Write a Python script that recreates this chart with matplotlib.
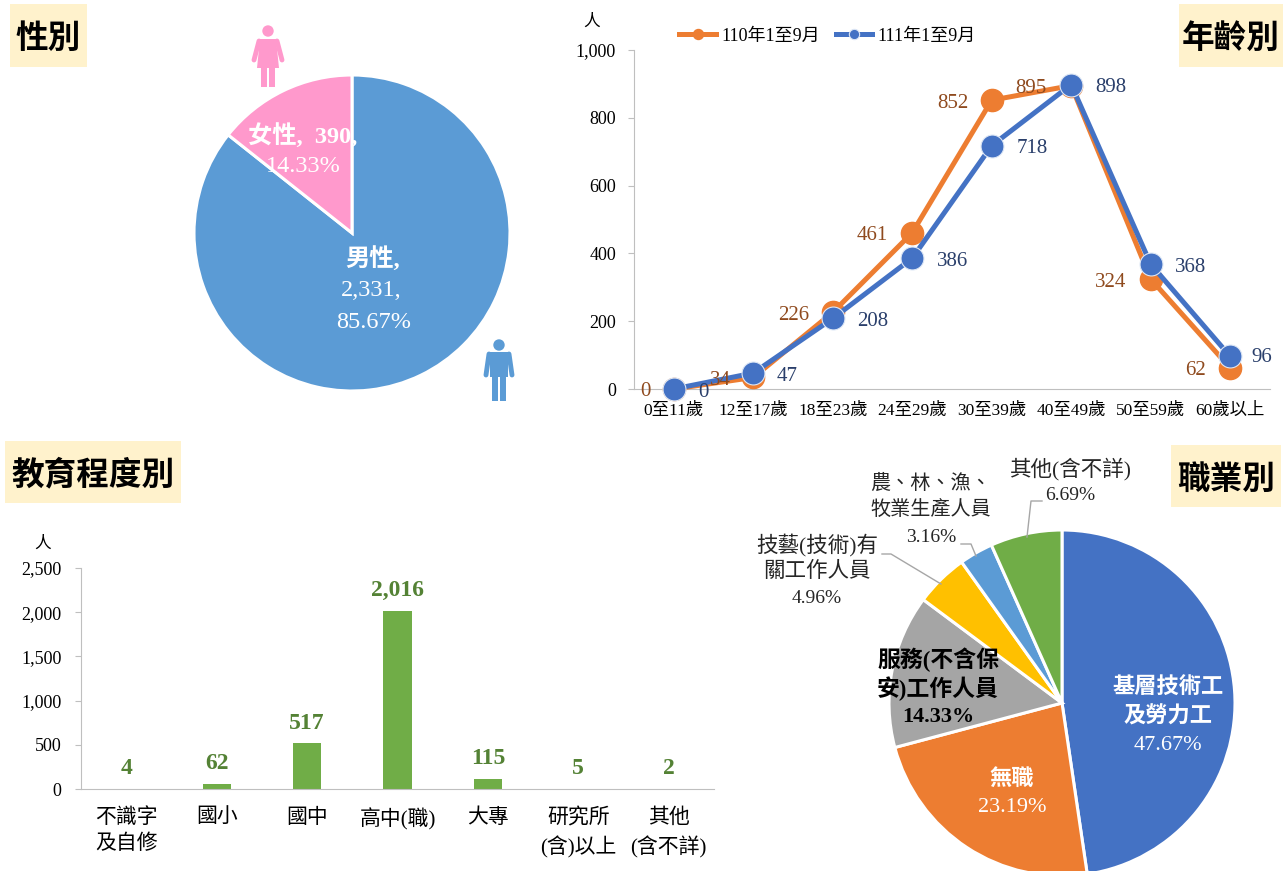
import matplotlib
matplotlib.use("Agg")
import matplotlib.pyplot as plt
from matplotlib.patches import Rectangle, Circle, Polygon
from matplotlib.ticker import FuncFormatter

W, H = 1283, 871
SERIF_CJK = ["Liberation Serif", "Noto Sans CJK TC"]
SANS_CJK = ["Noto Sans CJK TC", "DejaVu Sans"]
plt.rcParams["font.family"] = SERIF_CJK

# gender
gender_names = ["男性", "女性"]
gender_counts = [2331, 390]
gender_pct = [85.67, 14.33]

# age
age_groups = ["0至11歲", "12至17歲", "18至23歲", "24至29歲", "30至39歲", "40至49歲", "50至59歲", "60歲以上"]
age_110 = [0, 34, 226, 461, 852, 895, 324, 62]
age_111 = [0, 47, 208, 386, 718, 898, 368, 96]
age_series = ["110年1至9月", "111年1至9月"]
age_ticks = [0, 200, 400, 600, 800, 1000]

# education
edu_names = ["不識字\n及自修", "國小", "國中", "高中(職)", "大專", "研究所\n(含)以上", "其他\n(含不詳)"]
edu_counts = [4, 62, 517, 2016, 115, 5, 2]
edu_ticks = [0, 500, 1000, 1500, 2000, 2500]

# occupation
job_names = ["基層技術工\n及勞力工", "無職", "服務(不含保\n安)工作人員", "技藝(技術)有\n關工作人員",
             "農、林、漁、\n牧業生產人員", "其他(含不詳)"]
job_pct = [47.67, 23.19, 14.33, 4.96, 3.16, 6.69]
job_colors = ["#4472C4", "#ED7D31", "#A5A5A5", "#FFC000", "#5B9BD5", "#70AD47"]

ORANGE = "#ED7D31"
BLUE = "#4472C4"
GREEN = "#70AD47"
AXIS_GRAY = "#BFBFBF"


def px_axes(fig, left, top, right, bottom):
    return fig.add_axes([left / W, 1 - bottom / H, (right - left) / W, (bottom - top) / H])


def px_pie(fig, cx, cy, r, values, colors, lw):
    ax = px_axes(fig, cx - r, cy - r, cx + r, cy + r)
    ax.pie(values, colors=colors, startangle=90, counterclock=False,
           wedgeprops=dict(edgecolor="white", linewidth=lw))
    ax.set_xlim(-1, 1)
    ax.set_ylim(-1, 1)
    return ax


def style_axis(ax, ypad):
    for s in ["top", "right"]:
        ax.spines[s].set_visible(False)
    ax.spines["left"].set_color(AXIS_GRAY)
    ax.spines["bottom"].set_color(AXIS_GRAY)
    ax.tick_params(axis="y", color=AXIS_GRAY, length=4, labelsize=13, pad=ypad)
    ax.tick_params(axis="x", length=0)
    ax.yaxis.set_major_formatter(FuncFormatter(lambda v, _: f"{int(v):,}"))


def draw_person(ov, cx, top, color, female):
    ov.add_patch(Circle((cx, top + 6), 5.7, color=color, lw=0))
    if female:
        ov.add_patch(Polygon([(cx - 8, top + 14), (cx + 8, top + 14), (cx + 11, top + 43),
                              (cx - 11, top + 43)], color=color, lw=0))
        ov.add_patch(Rectangle((cx - 7, top + 42), 6, 20, color=color, lw=0))
        ov.add_patch(Rectangle((cx + 1, top + 42), 6, 20, color=color, lw=0))
        arm = [(cx - 9, top + 16), (cx - 14, top + 35)]
        arm2 = [(cx + 9, top + 16), (cx + 14, top + 35)]
    else:
        ov.add_patch(Rectangle((cx - 9, top + 13), 18, 25, color=color, lw=0))
        ov.add_patch(Rectangle((cx - 7, top + 37), 6, 25, color=color, lw=0))
        ov.add_patch(Rectangle((cx + 1, top + 37), 6, 25, color=color, lw=0))
        arm = [(cx - 10, top + 15), (cx - 13, top + 36)]
        arm2 = [(cx + 10, top + 15), (cx + 13, top + 36)]
    for a in (arm, arm2):
        ov.plot([a[0][0], a[1][0]], [a[0][1], a[1][1]], color=color, lw=3.5, solid_capstyle="round")


fig = plt.figure(figsize=(W / 100, H / 100), dpi=100, facecolor="white")

# gender pie
px_pie(fig, 352, 233, 158, gender_counts, ["#5B9BD5", "#FF99CC"], 2.2)

# occupation pie
px_pie(fig, 1062, 703, 173, job_pct, job_colors, 2.2)

# age lines
ax_age = px_axes(fig, 634, 50, 1270, 389)
xs = range(len(age_groups))
ax_age.plot(xs, age_110, color=ORANGE, lw=3.6, marker="o", ms=16, mec=ORANGE, label=age_series[0],
            clip_on=False, zorder=3)
ax_age.plot(xs, age_111, color=BLUE, lw=3.6, marker="o", ms=16.5, mec="#DCE6F5", mew=0.8,
            label=age_series[1], clip_on=False, zorder=4)
ax_age.set_xlim(-0.5, 7.5)
ax_age.set_ylim(0, 1000)
ax_age.set_yticks(age_ticks)
ax_age.set_xticks(list(xs))
ax_age.set_xticklabels(age_groups, fontsize=12.5)
style_axis(ax_age, 9)
ax_age.tick_params(axis="x", pad=10)
ax_age.legend(loc="lower left", bbox_to_anchor=(0.063, 1.0), ncols=2, frameon=False, fontsize=13,
              markerscale=0.45, handlelength=2.0, handletextpad=0.3, columnspacing=0.9, borderpad=0,
              borderaxespad=0.3)

off_110 = [(-28, 2), (-33, 3), (-39, 3), (-40, 3), (-39, 3), (-40, 3), (-40, 3), (-35, 3)]
off_111 = [(30, 3), (34, 3), (40, 3), (40, 3), (40, 3), (40, 3), (40, 3), (32, 1)]
for i, v in enumerate(age_110):
    ax_age.annotate(str(v), (i, v), xytext=(off_110[i][0] * 0.72, -off_110[i][1] * 0.72),
                    textcoords="offset points", ha="center", va="center", fontsize=15,
                    color="#8F4A1E", annotation_clip=False, zorder=5)
for i, v in enumerate(age_111):
    ax_age.annotate(str(v), (i, v), xytext=(off_111[i][0] * 0.72, -off_111[i][1] * 0.72),
                    textcoords="offset points", ha="center", va="center", fontsize=15,
                    color="#2A3F6B", annotation_clip=False, zorder=5)

# education bars
ax_edu = px_axes(fig, 81, 568, 714, 789)
bars = ax_edu.bar(range(len(edu_names)), edu_counts, width=0.31, color=GREEN)
ax_edu.set_xlim(-0.5, 6.5)
ax_edu.set_ylim(0, 2500)
ax_edu.set_yticks(edu_ticks)
ax_edu.set_xticks(range(len(edu_names)))
ax_edu.set_xticklabels(edu_names, fontsize=15, linespacing=1.45)
style_axis(ax_edu, 10)
ax_edu.tick_params(axis="x", pad=14)
ax_edu.bar_label(bars, labels=[f"{v:,}" for v in edu_counts], padding=7, fontsize=17,
                 fontweight="bold", color="#548235")

# overlay in pixel coordinates for the captions and pie labels
ov = fig.add_axes([0, 0, 1, 1], facecolor="none")
ov.set_xlim(0, W)
ov.set_ylim(H, 0)
ov.axis("off")


def put(x, y, s, size=14, color="black", weight="normal", family=SERIF_CJK):
    ov.text(x, y + 2, s, ha="center", va="center", fontsize=size, color=color, fontweight=weight, family=family)


for (x0, y0, x1, y1, s) in [(10, 4, 87, 67, "性別"), (1179, 4, 1283, 67, "年齡別"),
                            (5, 441, 181, 503, "教育程度別"), (1171, 445, 1281, 507, "職業別")]:
    ov.add_patch(Rectangle((x0, y0), x1 - x0, y1 - y0, color="#FFF2CC", lw=0))
    put((x0 + x1) / 2, (y0 + y1) / 2 + 1, s, size=23.5, weight="bold", family=SANS_CJK)

put(592, 20, "人", size=12)
put(43, 542, "人", size=12)

draw_person(ov, 268, 25, "#FF99CC", True)
draw_person(ov, 499, 339, "#5B9BD5", False)

# gender labels
put(373, 257, f"{gender_names[0]},", 17.5, "white", "bold")
put(371, 288, f"{gender_counts[0]:,},", 17.5, "white")
put(374, 320, f"{gender_pct[0]:.2f}%", 17.5, "white")
put(303, 134, f"{gender_names[1]},  {gender_counts[1]},", 17.5, "white", "bold")
put(303, 165, f"{gender_pct[1]:.2f}%", 17.5, "white")

# occupation labels
job_pos = [(1168, 686), (1012, 777), (938, 658), (817, 543), (931, 482), (1070, 467)]
job_color = ["white", "white", "black", "#262626", "#262626", "#262626"]
job_weight = ["bold", "bold", "bold", "normal", "normal", "normal"]
job_size = [16, 16, 16.5, 15.5, 14.5, 15.5]
pct_size = [16, 16, 16, 14, 14, 14]
job_step = [28.5, 28, 28.5, 26.5, 26.5, 26]
for i, name in enumerate(job_names):
    x, y = job_pos[i]
    name_lines = name.split("\n")
    for k, t in enumerate(name_lines):
        put(x, y + k * job_step[i], t, job_size[i], job_color[i], job_weight[i])
    put(x, y + len(name_lines) * job_step[i], f"{job_pct[i]:.2f}%", pct_size[i], job_color[i],
        "bold" if i == 2 else "normal")

leaders = [([1027, 1031, 1042], [537, 501, 501]),
           ([976, 971, 961], [556, 544, 544]),
           ([941, 891, 882], [584, 554, 554])]
for lx, ly in leaders:
    ov.plot(lx, ly, color="#A6A6A6", lw=1)

fig.savefig("out.png", dpi=100)
